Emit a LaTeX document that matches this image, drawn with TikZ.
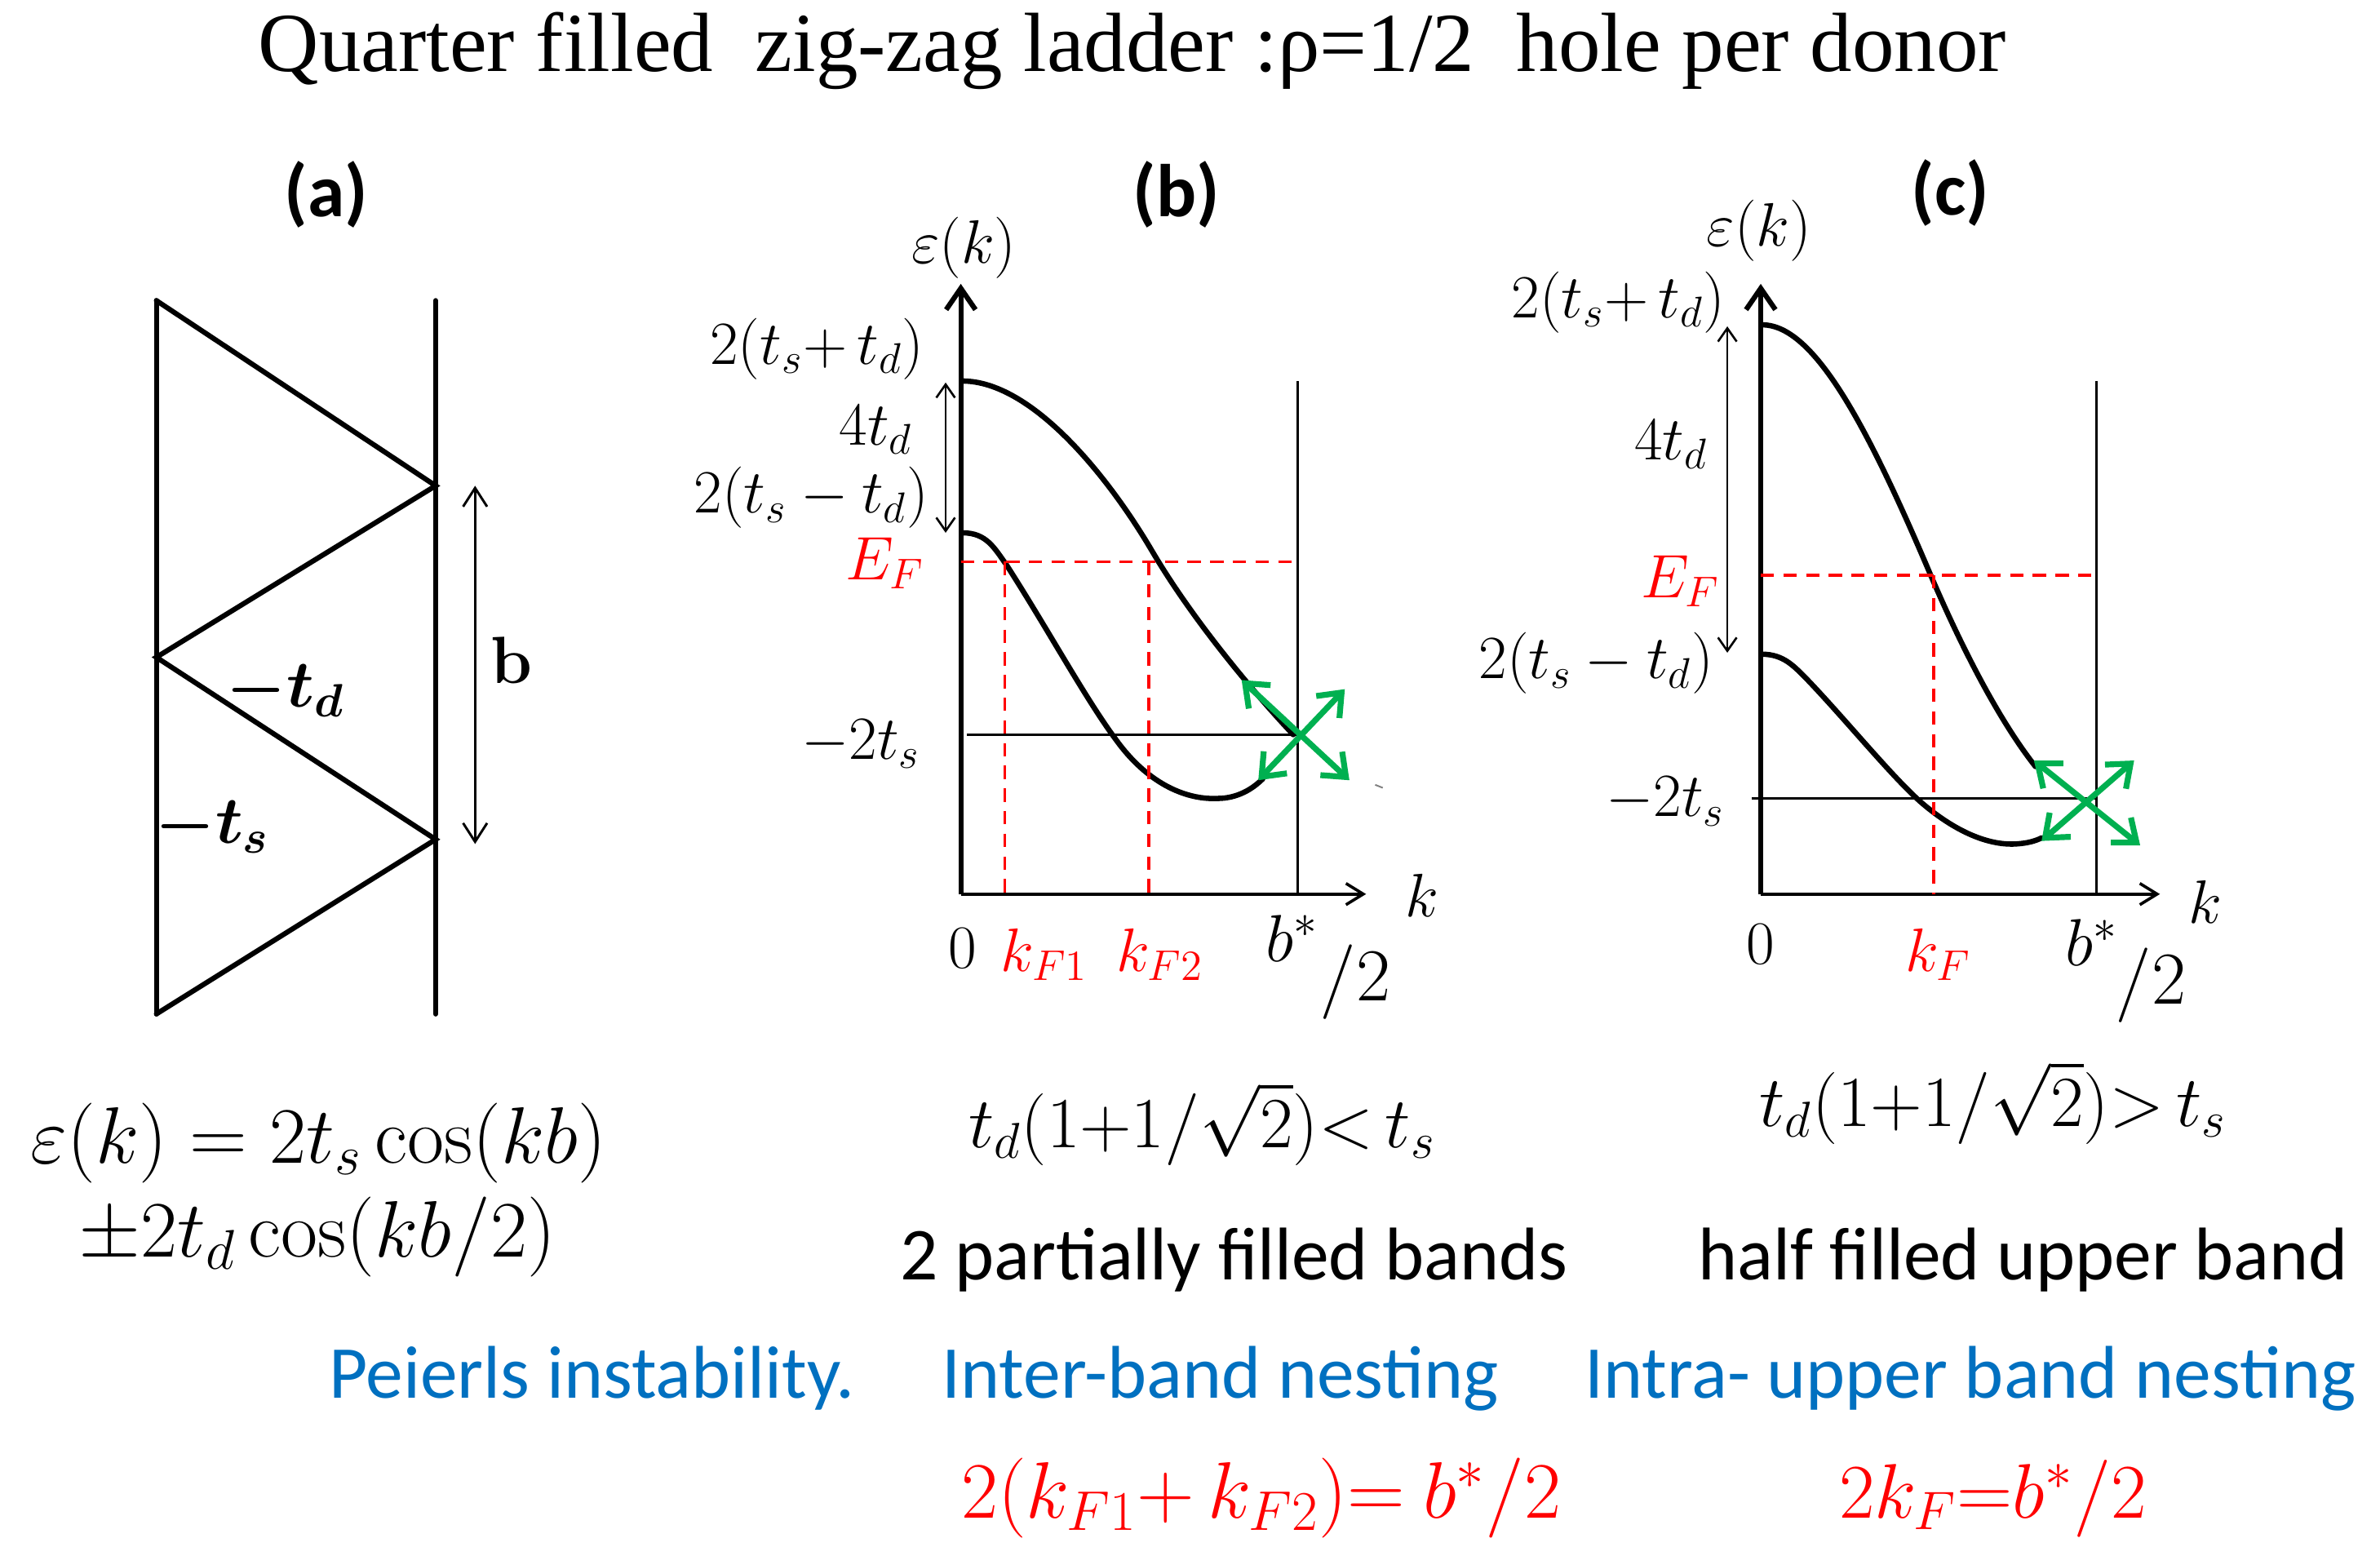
\RequirePackage{fix-cm}
\documentclass[tikz,border=0pt]{standalone}
\usepackage{amsmath,bm}
\usepackage[no-math]{fontspec}
\setmainfont{Carlito}
\newfontfamily\titlefont{Liberation Serif}
\usetikzlibrary{arrows.meta}
\definecolor{myred}{RGB}{255,0,0}
\definecolor{myblue}{RGB}{0,112,192}
\definecolor{mygreen}{RGB}{0,176,80}
\tikzset{
  ladder/.style={line width=1.9pt, line cap=round, line join=miter},
  band/.style={line width=2pt, line cap=round},
  thinln/.style={line width=0.9pt},
  efdash/.style={myred, line width=1.1pt, dash pattern=on 5pt off 3.5pt},
  greenarr/.style={mygreen, line width=2.2pt, {Straight Barb[length=7.5pt,width=12pt]}-{Straight Barb[length=7.5pt,width=12pt]}},
  axisy/.style={line width=1.9pt, -{Straight Barb[length=8pt,width=11pt]}},
  axisx/.style={line width=1.1pt, -{Straight Barb[length=6.5pt,width=8pt]}},
  dblarr/.style={line width=0.8pt, {Straight Barb[length=5pt,width=7pt]}-{Straight Barb[length=5pt,width=7pt]}},
  barr/.style={line width=0.9pt, {Straight Barb[length=7pt,width=9pt]}-{Straight Barb[length=7pt,width=9pt]}},
  lab/.style={inner sep=0pt, font=\fontsize{23}{26}\selectfont},
  plab/.style={inner sep=0pt, font=\fontsize{28}{30}\selectfont\bfseries},
  bigmath/.style={inner sep=0pt, anchor=base, font=\fontsize{30}{32}\selectfont},
  txt/.style={inner sep=0pt, anchor=base, font=\fontsize{28}{30}\selectfont},
  bluetxt/.style={txt, text=myblue},
}
\begin{document}
\begin{tikzpicture}[x=0.02cm, y=-0.02cm]
\useasboundingbox (0,0) rectangle (1568,1025);
\fill[white] (0,0) rectangle (1568,1025);

% title
\node[inner sep=0pt, anchor=base, font=\titlefont\fontsize{31.5}{34}\selectfont] (title) at (746,47)
  {Quarter filled\ \ zig-zag ladder :ρ=1/2\ \ hole per donor};

% ---------- panel (a)
\node[plab] (pa) at (215,128) {(a)};
\coordinate (L1) at (103,198);
\coordinate (R1) at (287,320);
\coordinate (L2) at (103,433);
\coordinate (R2) at (287,553);
\coordinate (L3) at (103,668);
\coordinate (RT) at (287,198);
\coordinate (RB) at (287,668);
\draw[ladder] (L1) -- (L3);
\draw[ladder] (RT) -- (RB);
\draw[ladder] (L1) -- (R1) -- (L2) -- (R2) -- (L3);
\coordinate (bt) at (313,320);
\coordinate (bb) at (313,556);
\draw[barr] (bt) -- (bb);
\node[lab, font=\fontsize{25}{28}\selectfont] (blab) at (337,435) {$\mathbf{b}$};
\node[lab, font=\fontsize{25}{28}\selectfont] (tdlab) at (188,455) {$\bm{-t_d}$};
\node[lab, font=\fontsize{25}{28}\selectfont] (tslab) at (140,545) {$\bm{-t_s}$};

\node[bigmath] (fa1) at (210,766) {$\varepsilon(k) = 2t_s\cos(kb)$};
\node[bigmath] (fa2) at (209,828) {$\pm2t_d\cos(kb/2)$};

% ---------- panel (b)
\node[plab] (pb) at (775,128) {(b)};
\coordinate (bO) at (633,589);
\coordinate (bYtop) at (633,187);
\coordinate (bXend) at (900,589);
\draw[axisx] (bO) -- (bXend);
\draw[axisy] (bO) -- (bYtop);
\coordinate (bVt) at (855,251);
\coordinate (bVb) at (855,589);
\draw[thinln] (bVt) -- (bVb);
% -2ts level
\coordinate (bTsL) at (637,484);
\coordinate (bTsR) at (855,484);
\draw[thinln] (bTsL) -- (bTsR);
% bands
\draw[band] (634,251) .. controls (679,251) and (729,312) .. (759,363)
                      .. controls (784,405.5) and (822,452) .. (852,484);
\draw[band] (634,351) .. controls (650,351) and (655,361) .. (663,372)
                      .. controls (690,414) and (715,460) .. (735,487)
                      .. controls (755,515) and (780,527) .. (802,526)
                      .. controls (815,526) and (825,520) .. (832,513);
% EF
\coordinate (bEFL) at (633,370);
\coordinate (bEFR) at (855,370);
\draw[efdash] (bEFL) -- (bEFR);
\coordinate (bK1t) at (662,370);
\coordinate (bK1b) at (662,589);
\coordinate (bK2t) at (757,370);
\coordinate (bK2b) at (757,589);
\draw[efdash] (bK1t) -- (bK1b);
\draw[efdash] (bK2t) -- (bK2b);
% 4td arrow
\coordinate (b4t) at (623,252);
\coordinate (b4b) at (623,351);
\draw[dblarr] (b4t) -- (b4b);
% green arrows
\coordinate (bg1) at (818,448);
\coordinate (bg2) at (889,514);
\coordinate (bg3) at (829,514);
\coordinate (bg4) at (886,454);
\draw[greenarr] (bg1) -- (bg2);
\draw[greenarr] (bg3) -- (bg4);
\coordinate (bart1) at (906,517);
\coordinate (bart2) at (911,519);
\draw[gray, line width=0.6pt] (bart1) -- (bart2);
% labels
\node[lab] (beps) at (635,163) {$\varepsilon(k)$};
\node[lab, anchor=east] (btop) at (609,230) {$2(t_s{+}\,t_d)$};
\node[lab] (b4td) at (577,283) {$4t_d$};
\node[lab, anchor=east] (bbot) at (612,328) {$2(t_s - t_d)$};
\node[lab, text=myred] (bEF) at (583,371) {$E_F$};
\node[lab] (bts) at (567,490) {$-2t_s$};
\node[lab] (b0) at (634,625) {$0$};
\node[lab, text=myred] (bkf1) at (688,629) {$k_{F1}$};
\node[lab, text=myred] (bkf2) at (764,629) {$k_{F2}$};
\node[lab, font=\fontsize{25}{28}\selectfont] (bbs) at (851,618) {$b^*$};
\node[lab, font=\fontsize{28}{30}\selectfont] (bhalf) at (893,647) {$/2$};
\node[lab] (bk) at (937,590) {$k$};

% ---------- panel (c)
\node[plab] (pc) at (1285,127) {(c)};
\coordinate (cO) at (1160,589);
\coordinate (cYtop) at (1160,187);
\coordinate (cXend) at (1423,589);
\draw[axisx] (cO) -- (cXend);
\draw[axisy] (cO) -- (cYtop);
\coordinate (cVt) at (1381,251);
\coordinate (cVb) at (1381,589);
\draw[thinln] (cVt) -- (cVb);
\coordinate (cTsL) at (1154,526);
\coordinate (cTsR) at (1381,526);
\draw[thinln] (cTsL) -- (cTsR);
\draw[band] (1161,214) .. controls (1195,214) and (1230,280) .. (1272,379)
                       .. controls (1290,421) and (1315,472) .. (1341,505);
\draw[band] (1161,431) .. controls (1175,431) and (1182,439) .. (1190,447)
                       .. controls (1215,473) and (1245,510) .. (1265,528)
                       .. controls (1288,548) and (1310,557) .. (1328,556)
                       .. controls (1336,555.5) and (1341,554) .. (1345,552);
\coordinate (cEFL) at (1160,379);
\coordinate (cEFR) at (1381,379);
\draw[efdash] (cEFL) -- (cEFR);
\coordinate (cKt) at (1274,379);
\coordinate (cKb) at (1274,589);
\draw[efdash] (cKt) -- (cKb);
\coordinate (c4t) at (1138,215);
\coordinate (c4b) at (1138,430);
\draw[dblarr] (c4t) -- (c4b);
\coordinate (cg1) at (1340,501);
\coordinate (cg2) at (1410,557);
\coordinate (cg3) at (1345,554);
\coordinate (cg4) at (1406,501);
\draw[greenarr] (cg1) -- (cg2);
\draw[greenarr] (cg3) -- (cg4);
\node[lab] (ceps) at (1159,152) {$\varepsilon(k)$};
\node[lab, anchor=east] (ctop) at (1137,199) {$2(t_s{+}\,t_d)$};
\node[lab] (c4td) at (1101,293) {$4t_d$};
\node[lab, text=myred] (cEF) at (1107,383) {$E_F$};
\node[lab, anchor=east] (cbot) at (1129,437) {$2(t_s - t_d)$};
\node[lab] (cts) at (1097,528) {$-2t_s$};
\node[lab] (c0) at (1160,622) {$0$};
\node[lab, text=myred] (ckf) at (1277,629) {$k_F$};
\node[lab, font=\fontsize{25}{28}\selectfont] (cbs) at (1378,621) {$b^*$};
\node[lab, font=\fontsize{28}{30}\selectfont] (chalf) at (1417,649) {$/2$};
\node[lab] (ck) at (1453,594) {$k$};

% ---------- bottom texts
\node[bigmath, font=\fontsize{27}{30}\selectfont] (condb) at (792,756) {$t_d(1{+}1/\sqrt{2}){<}\,t_s$};
\node[bigmath, font=\fontsize{27}{30}\selectfont] (condc) at (1313,742) {$t_d(1{+}1/\sqrt{2}){>}\,t_s$};
\node[txt] (descb) at (813,843) {2 partially filled bands};
\node[txt] (descc) at (1333,843) {half filled upper band};
\node[bluetxt] (peierls) at (390,921) {Peierls instability.};
\node[bluetxt] (inter) at (804,921) {Inter-band nesting};
\node[bluetxt] (intra) at (1298,921) {Intra- upper band nesting};
\node[bigmath, text=myred] (nestb) at (831,1000) {$2(k_{F1}{+}\,k_{F2}){=}\ b^*/2$};
\node[bigmath, text=myred, font=\fontsize{29}{32}\selectfont] (nestc) at (1313,1000) {$2k_F{=}b^*/2$};
\end{tikzpicture}
\end{document}
